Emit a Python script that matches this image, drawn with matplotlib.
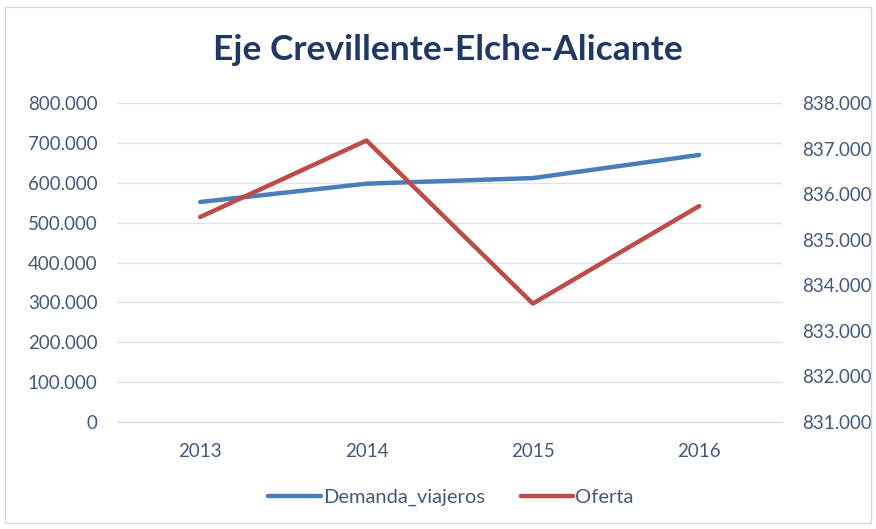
import matplotlib
matplotlib.use("Agg")
import matplotlib.pyplot as plt
from matplotlib.ticker import FuncFormatter
from matplotlib.patches import Rectangle

years = ["2013", "2014", "2015", "2016"]
demanda = [552000, 598000, 612000, 670000]
oferta = [835500, 837180, 833600, 835740]

blue = "#4A7EBB"
red = "#BE4B48"
txt = "#44597C"

plt.rcParams["font.family"] = ["Lato", "DejaVu Sans"]

def miles(v, pos):
    return f"{int(round(v)):,}".replace(",", ".")

fig = plt.figure(figsize=(8.76, 5.29), dpi=100)
fig.patches.append(Rectangle((0.006, 0.012), 0.988, 0.975, transform=fig.transFigure,
                             fill=False, edgecolor="#D9D9D9", linewidth=1))
ax = fig.add_axes([0.1336, 0.2023, 0.7594, 0.6027])
ax2 = ax.twinx()

x = range(len(years))
l1, = ax.plot(x, demanda, color=blue, linewidth=3.2, solid_capstyle="round", zorder=3)
l2, = ax2.plot(x, oferta, color=red, linewidth=3.2, solid_capstyle="round", zorder=3)

ax.set_xlim(-0.5, 3.5)
ax.set_ylim(0, 800000)
ax.set_yticks(range(0, 800001, 100000))
ax2.set_ylim(831000, 838000)
ax2.set_yticks(range(831000, 838001, 1000))
ax.yaxis.set_major_formatter(FuncFormatter(miles))
ax2.yaxis.set_major_formatter(FuncFormatter(miles))
ax.set_xticks(list(x))
ax.set_xticklabels(years)

ax.grid(axis="y", color="#DDE1EA", linewidth=1)
ax.set_axisbelow(True)
for a in (ax, ax2):
    for s in a.spines.values():
        s.set_visible(False)
    a.tick_params(length=0, labelsize=13.5, labelcolor=txt)
ax.spines["bottom"].set_visible(True)
ax.spines["bottom"].set_color("#D9D9D9")
ax.tick_params(axis="y", pad=14)
ax.tick_params(axis="x", pad=15)
ax2.tick_params(axis="y", pad=14)

fig.text(0.511, 0.905, "Eje Crevillente-Elche-Alicante", ha="center", va="center",
         fontsize=25.5, fontweight="bold", color="#1F3864")

fig.legend([l1, l2], ["Demanda_viajeros", "Oferta"], loc="center",
           bbox_to_anchor=(0.515, 0.06), ncol=2, frameon=False, fontsize=14.5,
           labelcolor=txt, handlelength=2.6, handletextpad=0.1, columnspacing=1.8)

fig.savefig("out.png", dpi=100)
